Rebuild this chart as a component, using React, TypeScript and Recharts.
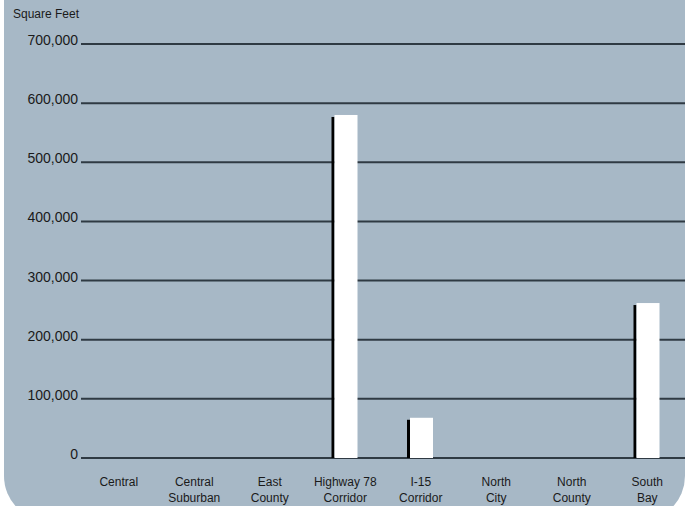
import { BarChart, Bar, XAxis, YAxis, CartesianGrid } from 'recharts'

const categories = [
  'Central',
  'Central Suburban',
  'East County',
  'Highway 78 Corridor',
  'I-15 Corridor',
  'North City',
  'North County',
  'South Bay',
]
const squareFeet = [0, 0, 0, 580000, 68000, 0, 0, 262000]
const yTicks = [0, 100000, 200000, 300000, 400000, 500000, 600000, 700000]

const data = categories.map((name, i) => ({ name, sqft: squareFeet[i] }))

const FONT = '"Liberation Sans", Arial, Helvetica, sans-serif'

// last word goes on the second line
function splitLabel(label: string): string[] {
  const words = label.split(' ')
  if (words.length < 2) return [label]
  return [words.slice(0, -1).join(' '), words[words.length - 1]]
}

function CategoryTick({ x, y, payload }: any) {
  const lines = splitLabel(payload.value)
  return (
    <text x={x} y={y} textAnchor="middle" fontFamily={FONT} fontSize={12} fill="#1a1a1a">
      {lines.map((line, i) => (
        <tspan key={i} x={x} y={y + 20 + i * 16}>
          {line}
        </tspan>
      ))}
    </text>
  )
}

function ValueTick({ x, y, payload }: any) {
  return (
    <text x={x} y={y + 1} textAnchor="end" fontFamily={FONT} fontSize={14} fill="#1a1a1a">
      {Number(payload.value).toLocaleString('en-US')}
    </text>
  )
}

/** White bar with a thin black edge on its left side. */
function ShadowBar({ x, y, width, height }: any) {
  if (!height || height <= 0) return null
  return (
    <g>
      <rect x={x - 2} y={y + 2} width={3} height={height - 2} fill="#000" />
      <rect x={x + 1} y={y} width={width} height={height} fill="#fff" />
    </g>
  )
}

export default function App() {
  return (
    <div
      style={{
        position: 'absolute',
        left: 0,
        top: 0,
        width: 691,
        height: 506,
        overflow: 'hidden',
        background: '#fff',
      }}
    >
      <div
        style={{
          position: 'absolute',
          left: 4,
          top: 0,
          width: 681,
          height: 521,
          background: '#a7b8c6',
          borderRadius: '0 0 45px 45px',
        }}
      />
      <div
        style={{
          position: 'absolute',
          left: 13,
          top: 7,
          fontFamily: FONT,
          fontSize: 12,
          color: '#1a1a1a',
        }}
      >
        Square Feet
      </div>
      <div style={{ position: 'absolute', left: 0, top: 0 }}>
        <BarChart
          width={691}
          height={506}
          data={data}
          margin={{ top: 44, right: 6, left: 2, bottom: 0 }}
        >
          <CartesianGrid vertical={false} stroke="#2f3a43" strokeWidth={2} />
          <XAxis
            dataKey="name"
            axisLine={false}
            tickLine={false}
            height={48}
            interval={0}
            tick={<CategoryTick />}
          />
          <YAxis
            domain={[0, 700000]}
            ticks={yTicks}
            axisLine={false}
            tickLine={false}
            tickSize={0}
            tickMargin={3}
            width={79}
            interval={0}
            tick={<ValueTick />}
          />
          <Bar dataKey="sqft" barSize={23} shape={<ShadowBar />} isAnimationActive={false} />
        </BarChart>
      </div>
    </div>
  )
}
